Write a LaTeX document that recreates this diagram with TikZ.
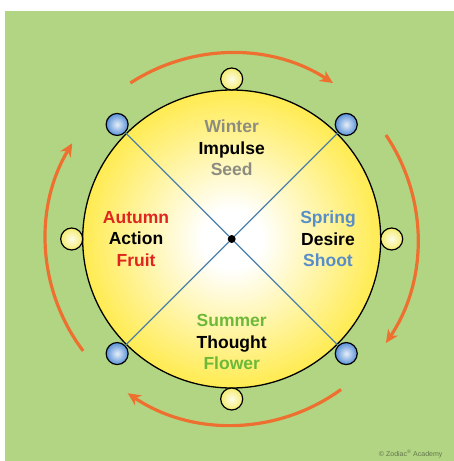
\documentclass[tikz,border=0pt]{standalone}
\usepackage{fontspec}
\setmainfont{Liberation Sans}
\usetikzlibrary{arrows.meta}

\definecolor{bggreen}{RGB}{178,213,132}
\definecolor{sunyellow}{RGB}{255,228,20}
\definecolor{arcorange}{RGB}{238,112,48}
\definecolor{spokeblue}{RGB}{75,128,170}
\definecolor{wintergray}{RGB}{140,140,128}
\definecolor{autumnred}{RGB}{222,38,30}
\definecolor{springblue}{RGB}{88,142,200}
\definecolor{summergreen}{RGB}{108,185,58}
\definecolor{knotblue}{RGB}{88,145,215}
\definecolor{knotyellow}{RGB}{245,236,112}

\pgfdeclareradialshading{sunshade}{\pgfpoint{0bp}{0bp}}{color(0bp)=(white); color(5bp)=(white); color(32bp)=(sunyellow); color(50bp)=(sunyellow)}

\begin{document}
\begin{tikzpicture}[x=1pt, y=1pt,
    season/.style={font=\bfseries\fontsize{17.5}{21.5}\selectfont, align=center},
    knot/.style={circle, draw=black, line width=1.2pt, minimum size=22pt, inner sep=0pt, inner color=#1!15!white, outer color=#1},
    spoke/.style={spokeblue, line width=1.3pt},
    turn/.style={arcorange, line width=3.2pt, -{Stealth[length=13pt, width=12pt, inset=4pt]}}]

    \useasboundingbox (-231.7, -222) rectangle (222.3, 239);
    \fill[white] (-231.7, -222) rectangle (222.3, 239);
    \fill[bggreen] (-226.7, -222) rectangle (222.3, 228);

    \node (wheel) at (0, 0) [circle, draw, line width=1.3pt, minimum size=298pt, inner sep=0pt, shade, shading=sunshade] {};
    \node (hub) at (0, 0) [circle, fill, inner sep=0pt, minimum size=8pt] {};

    \node (kN) at (90:160) [knot=knotyellow] {};
    \node (kE) at (0:160) [knot=knotyellow] {};
    \node (kS) at (270:160) [knot=knotyellow] {};
    \node (kW) at (180:160) [knot=knotyellow] {};

    \node (kNE) at (45:162) [knot=knotblue] {};
    \node (kNW) at (135:162) [knot=knotblue] {};
    \node (kSE) at (-45:162) [knot=knotblue] {};
    \node (kSW) at (225:162) [knot=knotblue] {};

    \draw[spoke] (hub) -- (kNE);
    \draw[spoke] (hub) -- (kNW);
    \draw[spoke] (hub) -- (kSE);
    \draw[spoke] (hub) -- (kSW);

    \node (winter) at (0, 91) [season] {\textcolor{wintergray}{Winter}\\Impulse\\\textcolor{wintergray}{Seed}};
    \node (spring) at (96.3, 0) [season] {\textcolor{springblue}{Spring}\\Desire\\\textcolor{springblue}{Shoot}};
    \node (summer) at (0, -103) [season] {\textcolor{summergreen}{Summer}\\Thought\\\textcolor{summergreen}{Flower}};
    \node (autumn) at (-95.7, 0) [season] {\textcolor{autumnred}{Autumn}\\Action\\\textcolor{autumnred}{Fruit}};

    \coordinate (aN) at (123:186);
    \coordinate (aE) at (34:186);
    \coordinate (aS) at (-54:186);
    \coordinate (aW) at (217:186);
    \draw[turn] (aN) arc[start angle=123, end angle=57, radius=186];
    \draw[turn] (aE) arc[start angle=34, end angle=-34, radius=186];
    \draw[turn] (aS) arc[start angle=-54, end angle=-124, radius=186];
    \draw[turn] (aW) arc[start angle=217, end angle=149, radius=186];

    \node (credit) at (179, -215) [font=\fontsize{7}{8}\selectfont, text=bggreen!55!black] {\textcopyright{} Zodiac\textsuperscript{\textregistered} Academy};
\end{tikzpicture}
\end{document}
